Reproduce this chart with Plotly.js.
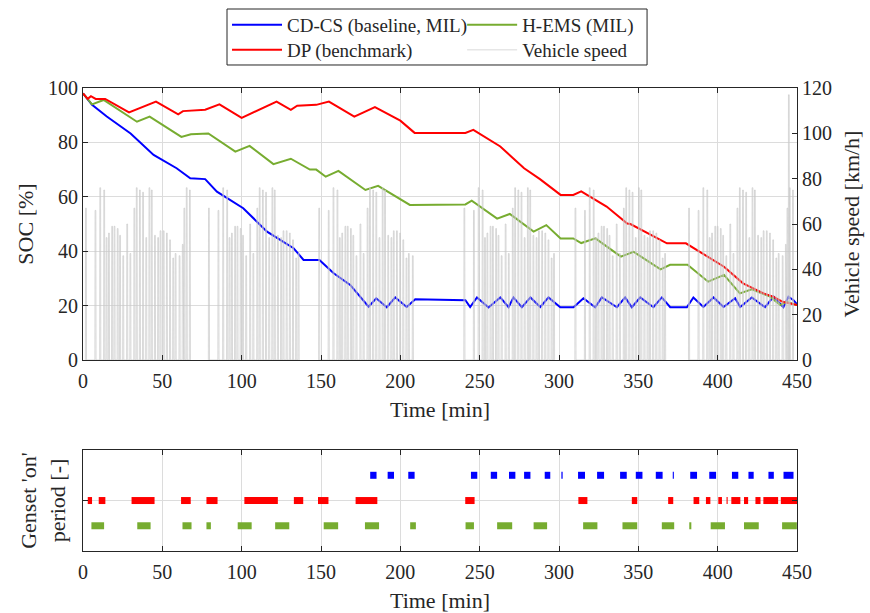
<!DOCTYPE html>
<html><head><meta charset="utf-8">
<script src="https://cdn.plot.ly/plotly-3.0.1.min.js"></script>
<style>html,body{margin:0;padding:0;background:#fff}</style>
</head><body><div id="chart" style="width:870px;height:613px"></div>
<script>
// ---- SOC series (time in min, SOC in %) ----
const dpTime = [0, 3, 5, 8, 14, 29, 46, 60, 63, 77, 86, 100, 122, 131, 135, 147, 155, 171, 184, 200, 209, 241, 246, 263, 278, 288, 301, 309, 314, 330, 343, 345, 368, 380, 404, 416, 429, 435, 441, 450];
const dpSoc  = [98, 96, 97, 96, 96, 91, 95, 90.3, 91.5, 92, 94, 89, 95, 92, 93.5, 93.8, 95, 89.5, 93, 88, 83.5, 83.5, 84.6, 78.5, 70.5, 66.5, 60.7, 60.7, 62, 56.4, 50.2, 50, 42.9, 42.9, 34.3, 28.2, 24.5, 23.3, 21.4, 20.2];

const hemsTime = [0, 5.7, 13, 34, 42, 62, 68, 79, 96, 105, 120, 131, 143, 147, 153, 161, 178, 186, 206, 241, 245, 261, 269, 284, 292, 301, 309, 314, 323, 339, 347, 364, 370, 381, 394, 404, 414, 421.5, 433, 439.5, 443.5, 450];
const hemsSoc  = [98, 94, 95.6, 87.6, 89.5, 82, 83, 83.3, 76.6, 78.7, 72, 74, 70, 70, 67.4, 69.5, 62.5, 64, 57, 57.2, 58.6, 52, 53.7, 47.2, 49.6, 44.7, 44.7, 43, 44.7, 38, 39.8, 33.3, 35, 35, 28.8, 31.3, 24.5, 26, 23.3, 20.2, 21.4, 20.2];

const cdcsTime = [0, 5.7, 15, 30, 44.5, 59, 67.6, 77, 84.4, 101, 116, 132.7, 139, 149, 158, 168.4, 180, 184.8, 191.5, 196.8, 204, 209.4, 241, 244, 248.3, 255.6, 263, 268.2, 271.3, 276.6, 282, 288.2, 293.4, 300.8, 309.2, 315.4, 322.8, 327, 336.5, 341.7, 345.9, 351.2, 359.5, 364.8, 370.1, 380.6, 384.7, 391, 397.4, 403.7, 411, 414.2, 421.5, 429.9, 435.2, 441.4, 444.6, 447.8, 450];
const cdcsSoc  = [98, 93.8, 89.5, 83.3, 75.4, 70.5, 66.8, 66.5, 61.9, 55.8, 47.2, 41.1, 36.8, 36.8, 31.9, 27.6, 19.6, 22.7, 19.4, 23, 19.5, 22.3, 22, 19.5, 23, 19.3, 23, 19.4, 23, 19.4, 23, 19.5, 23, 19.4, 19.4, 22.7, 19.4, 23, 19.4, 23, 19.4, 23, 19.4, 23, 19.4, 19.4, 23, 19.5, 23, 19.5, 22.7, 19.5, 23, 19.4, 23.3, 19.4, 23.3, 22, 20.5];

// ---- Vehicle speed: one drive cycle (trip start within cycle [min], trip peak [km/h]) ----
const cycleRel  = [0, 6, 9, 11.5, 13, 14.5, 16.5, 18, 20, 21.5, 23.5, 26, 28, 30.5, 32, 34, 36, 38, 40, 41.5, 43.5, 45.5, 47, 49, 51, 53, 55, 56.5, 59, 61, 62, 63.5, 65.5];
const cyclePeak = [67, 66, 76, 75, 54, 56, 59, 59, 58, 55, 46, 60, 47, 67, 76, 75, 74, 54, 76, 75, 55, 54, 57, 57, 56, 53, 45, 47, 46, 51, 67, 76, 75];
const blockStart = [1.5, 79, 148.5, 240, 310, 381.6];
const blockEnd   = [69, 138, 209.5, 298, 368, 450];
const extraTime = [444.5];
const extraPeak = [117];

// ---- Genset 'on' periods [min] ----
const cdcsOnStart = [181, 192, 205, 244.5, 257, 268.5, 278, 291, 301.5, 312, 324, 338.5, 348.4, 361, 371.7, 382.7, 394.7, 409, 419.4, 432, 441.5];
const cdcsOnEnd   = [185, 196, 209, 248.5, 261, 272.5, 282, 294.5, 302.3, 316.4, 328.4, 342.7, 352.6, 365.3, 372.4, 387, 399, 413, 422.7, 435.4, 447.8];
const dpOnStart = [3, 9.9, 30.6, 61.8, 77.8, 101.7, 132.9, 148.1, 171.8, 240.9, 312.2, 345.9, 368.8, 384.8, 392.6, 400.4, 405.6, 408.6, 416.6, 423.8, 428.8, 439.8];
const dpOnEnd   = [5.7, 14.1, 45.1, 67.9, 84.8, 122.8, 138.8, 154.7, 185.5, 246.8, 317.9, 349.3, 372, 388.4, 395.4, 402.7, 406.3, 414.3, 419.2, 427, 438.1, 450];
const hemsOnStart = [5.3, 34.2, 62.7, 77.8, 97.5, 121.1, 151.7, 177.7, 206.2, 241.1, 261, 284, 315.2, 340, 364.8, 382.1, 395.6, 416.6, 440.6];
const hemsOnEnd   = [13.3, 42.6, 68.4, 80.6, 106.3, 130, 160.8, 186.6, 209.8, 246.4, 270.5, 292.5, 324.2, 349.3, 372.6, 383.4, 404.6, 425.9, 449.9];
const rowLevel = {cdcs: 3, dp: 2, hems: 1};

// build speed polyline
const spX = [], spY = [];
function trip(s, p) { spX.push(s, s + 0.12, s + 0.6, s + 0.72); spY.push(0, p, p, 0); }
for (let b = 0; b < blockStart.length; b++) {
  const dur = blockEnd[b] - blockStart[b];
  for (let i = 0; i < cycleRel.length; i++) {
    if (cycleRel[i] + 0.72 <= dur) trip(blockStart[b] + cycleRel[i], cyclePeak[i]);
  }
  spX.push(null); spY.push(null);
}
for (let i = 0; i < extraTime.length; i++) trip(extraTime[i], extraPeak[i]);

function bars(st, en, lvl) {
  const x = [], y = [];
  for (let i = 0; i < st.length; i++) { x.push(st[i], en[i], null); y.push(lvl, lvl, null); }
  return {x, y};
}
const bC = bars(cdcsOnStart, cdcsOnEnd, rowLevel.cdcs);
const bD = bars(dpOnStart, dpOnEnd, rowLevel.dp);
const bH = bars(hemsOnStart, hemsOnEnd, rowLevel.hems);

const BLUE = '#0000ff', RED = '#ff0000', GREEN = '#77ac30', GRAY = '#c8c8c8';

const traces = [
  {x: spX, y: spY, xaxis: 'x', yaxis: 'y2', mode: 'lines', name: 'Vehicle speed', legend: 'legend4',
   line: {color: GRAY, width: 0.7}, hoverinfo: 'skip'},
  {x: cdcsTime, y: cdcsSoc, xaxis: 'x', yaxis: 'y', mode: 'lines', name: 'CD-CS (baseline, MIL)', legend: 'legend',
   line: {color: BLUE, width: 2}},
  {x: hemsTime, y: hemsSoc, xaxis: 'x', yaxis: 'y', mode: 'lines', name: 'H-EMS (MIL)', legend: 'legend2',
   line: {color: GREEN, width: 2}},
  {x: dpTime, y: dpSoc, xaxis: 'x', yaxis: 'y', mode: 'lines', name: 'DP (benchmark)', legend: 'legend3',
   line: {color: RED, width: 2}},
  {x: bC.x, y: bC.y, xaxis: 'x2', yaxis: 'y3', mode: 'lines', showlegend: false, line: {color: BLUE, width: 7}},
  {x: bD.x, y: bD.y, xaxis: 'x2', yaxis: 'y3', mode: 'lines', showlegend: false, line: {color: RED, width: 7}},
  {x: bH.x, y: bH.y, xaxis: 'x2', yaxis: 'y3', mode: 'lines', showlegend: false, line: {color: GREEN, width: 7}}
];

const AX = '#262626', GRID = '#dcdcdc';
const tickFont = {family: 'Liberation Serif', size: 20, color: AX};
const titleFont = {family: 'Liberation Serif', size: 22, color: AX};
const baseX = {range: [0, 450], tick0: 0, dtick: 50, ticks: 'inside', ticklen: 5, tickcolor: AX,
  showline: true, linecolor: AX, linewidth: 1, mirror: 'ticks', showgrid: true, gridcolor: GRID,
  zeroline: false, tickfont: tickFont, ticklabelstandoff: 3, automargin: false};
const legFont = {family: 'Liberation Serif', size: 19, color: AX};
function leg(x, y) {
  return {x: x, y: y, xanchor: 'left', yanchor: 'middle', orientation: 'v', bgcolor: 'rgba(0,0,0,0)',
    borderwidth: 0, font: legFont, itemwidth: 50, tracegroupgap: 0};
}

const layout = {
  width: 870, height: 613,
  margin: {l: 83, r: 73, t: 88, b: 62, autoexpand: false},
  paper_bgcolor: '#ffffff', plot_bgcolor: '#ffffff',
  font: {family: 'Liberation Serif', size: 20, color: AX},
  xaxis: Object.assign({}, baseX, {domain: [0, 1], anchor: 'y',
    title: {text: 'Time [min]', font: titleFont, standoff: 10}}),
  yaxis: {domain: [0.4125, 1], anchor: 'x', range: [0, 100], tick0: 0, dtick: 20, ticks: 'inside', ticklen: 5,
    tickcolor: AX, showline: true, linecolor: AX, linewidth: 1, mirror: false, showgrid: true, gridcolor: GRID,
    zeroline: false, tickfont: tickFont, automargin: false, title: {text: 'SOC [%]', font: titleFont, standoff: 8}},
  yaxis2: {overlaying: 'y', side: 'right', anchor: 'x', range: [0, 120], tick0: 0, dtick: 20, ticks: 'inside', ticklen: 5,
    tickcolor: AX, showline: true, linecolor: AX, linewidth: 1, showgrid: false, zeroline: false, tickfont: tickFont,
    automargin: false, title: {text: 'Vehicle speed [km/h]', font: titleFont, standoff: 12}},
  xaxis2: Object.assign({}, baseX, {domain: [0, 1], anchor: 'y3',
    title: {text: 'Time [min]', font: titleFont, standoff: 10}}),
  yaxis3: {domain: [0, 0.218], anchor: 'x2', range: [0, 4], tickvals: [2], ticktext: [''], ticks: 'inside', ticklen: 5,
    tickcolor: AX, showline: true, linecolor: AX, linewidth: 1, mirror: 'ticks', showgrid: true, gridcolor: GRID,
    zeroline: false, tickfont: tickFont, automargin: false,
    title: {text: "Genset 'on'<br>period [-]", font: titleFont, standoff: 6}},
  legend: leg(0.2017, 1.1361),
  legend2: leg(0.531, 1.1361),
  legend3: leg(0.2017, 1.0821),
  legend4: leg(0.531, 1.0821),
  shapes: [{type: 'rect', xref: 'paper', yref: 'paper', x0: 0.2017, x1: 0.790, y0: 1.0497, y1: 1.1706,
    line: {color: AX, width: 1}, fillcolor: 'rgba(0,0,0,0)'}],
  showlegend: true
};

Plotly.newPlot('chart', traces, layout, {displayModeBar: false, staticPlot: true});
</script></body></html>
